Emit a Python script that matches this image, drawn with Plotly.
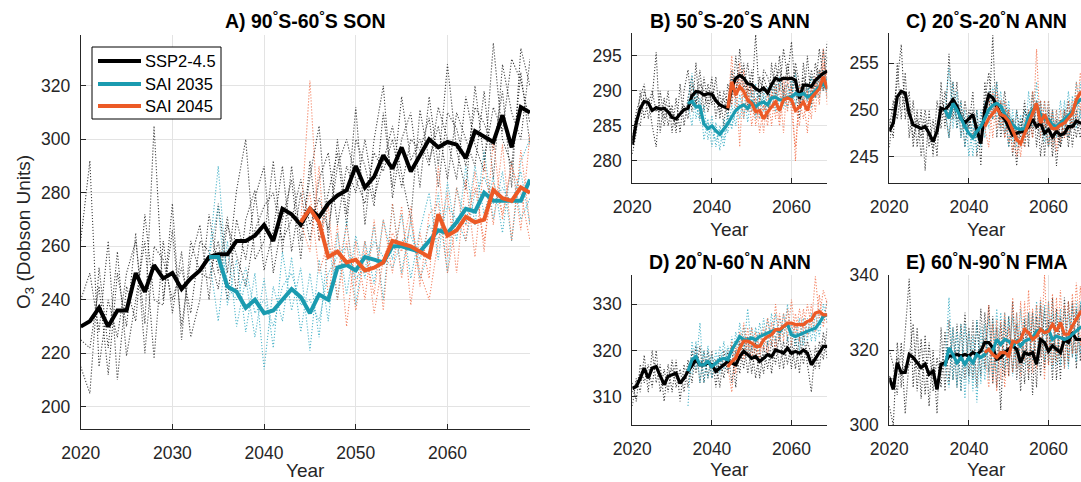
import plotly.graph_objects as go

W, H = 1081, 482

years = list(range(2020, 2070))
years_sai35 = list(range(2034, 2070))
years_sai45 = list(range(2044, 2070))

# ---------------- Panel A: 90S-60S SON ----------------
a_ssp_mean = [230,232,237,230,236,236,250,243,253,248, 250,244,248,251,256,257,257,262,262,264,
              268,262,274,272,268,274,271,276,279,281, 290,282,286,294,289,297,288,294,300,297,
              299,298,293,303,301,299,309,297,312,310]
a_ssp_m1 = [262,292,215,240,226,250,262,231,305,240, 266,230,255,268,240,276,250,281,300,255,
            262,292,258,290,262,286,305,262,300,272, 312,268,300,320,278,300,310,282,316,290,
            328,296,281,320,292,312,303,330,322,306]
a_ssp_m2 = [215,205,252,222,258,219,240,262,218,262, 235,258,226,240,272,250,271,242,270,281,
            251,266,290,258,280,262,285,295,268,290, 280,300,278,292,305,287,270,311,292,305,
            285,310,300,290,318,285,328,310,300,330]
a_ssp_m3 = [240,250,228,262,210,245,232,272,240,238, 276,225,262,250,248,262,240,270,255,278,
            290,250,270,285,255,292,262,280,295,268, 300,290,275,310,282,316,292,300,290,312,
            300,285,316,298,288,336,300,290,325,298]
a_ssp_m4 = [225,222,245,212,250,230,265,220,260,255, 240,252,235,262,258,244,268,256,245,266,
            275,280,262,270,285,268,278,266,290,300, 285,276,295,288,300,282,300,296,308,282,
            310,304,290,312,306,296,318,282,334,320]
a_s35_mean = [256,256,245,243,237,240,235,236,240,244, 241,235,242,240,252,253,251,256,255,254,
              260,260,259,258,262,266,265,269,274,273, 280,277,277,277,277,285]
a_s35_m1 = [256,275,238,255,228,250,214,245,232,256, 228,250,226,262,240,270,238,262,246,270,
            255,272,248,266,280,255,284,262,290,268, 296,270,288,262,292,300]
a_s35_m2 = [256,232,262,230,248,226,248,222,258,236, 252,221,255,232,265,242,264,248,268,240,
            276,250,270,248,258,280,250,282,268,290, 272,286,265,292,270,278]
a_s35_m3 = [256,290,245,240,252,235,240,230,245,250, 238,240,232,250,256,260,248,252,262,256,
            252,262,264,255,268,262,275,270,262,280, 286,276,282,276,288,268]
a_s45_mean = [269,274,269,256,258,254,255,251,252,254, 262,261,260,258,256,272,264,266,271,269,
              270,281,278,277,282,280]
a_s45_m1 = [269,322,262,275,240,262,236,258,242,270, 250,275,238,265,248,290,256,282,262,288,
            258,300,270,292,266,302]
a_s45_m2 = [269,258,290,240,268,230,262,240,270,236, 276,248,270,250,240,262,280,250,285,256,
            292,268,298,262,296,268]
a_s45_m3 = [269,280,250,262,250,268,245,262,235,255, 265,258,275,245,272,276,250,270,268,282,
            262,284,272,290,280,262]

# ---------------- Panel B: 50S-20S ANN ----------------
b_ssp_mean = [282.3,285.5,287.5,288.5,288.3,287.2,287.6,287.4,287.5,287.0,
              286.2,286.0,286.7,287.3,287.5,289.3,289.9,289.8,289.4,289.6,
              289.5,288.6,288.0,287.7,287.5,290.5,291.8,292.2,291.8,291.0,
              290.9,290.3,290.0,290.4,289.7,290.9,291.8,291.5,291.8,291.7,
              291.8,291.5,288.9,290.8,290.8,290.6,291.5,292.0,292.5,292.8]
b_ssp_m1 = [283,287,289,291,286,289,295.5,284,289,285, 288,284,291,285,289,292,288,293,287,291,
            288,292,286,290,288,293,289,296,290,294, 289,298,288,293,292,290,294,290,296,292,
            297,290,286,294,289,293,290,296,292,297]
b_ssp_m2 = [281,284,290,286,289,285,282,290,286,290, 284,289,284,290,293,287,294,286,292,288,
            292,286,290,285,291,288,295,290,294,288, 293,287,292,289,286,294,289,295,289,294,
            290,294,291,288,295,288,294,291,296,290]
b_ssp_m3 = [282.5,286,285,290,288,290,287,288,285,288, 287,285,287,288,286,291,288,291,290,287,
            290,289,287,289,286,292,290,293,292,290, 291,290,289,292,290,289,292,293,290,291,
            289,293,288,292,290,292,289,293,290,295]
b_s35_mean = [288.2,288.5,287.7,287.8,285.3,284.6,285.0,284.3,283.8,284.6,
              285.3,286.3,287.2,287.7,288.0,287.5,288.4,287.7,288.2,288.4,
              288.0,289.0,289.1,288.7,288.7,289.1,289.1,289.6,289.4,289.6,
              289.1,289.4,290.0,290.6,291.0,290.3]
b_s35_m1 = [288.2,292.5,286,289,283,286,282,285.5,281.5,286, 284,288,285,289.5,286,290,287,291,286,290,
            288,291,287,292,288,291,289,292.5,288,291, 288.5,292,289,293,290,292]
b_s35_m2 = [288.2,285,290,286,288,283,286.5,282,285,283, 287,284.5,289,286,290,285.5,290,286.5,290,287,
            290.5,287.5,291,287,290,287.5,291.5,288,291,288, 291,287.5,292,289,293,289]
b_s35_m3 = [288.2,289,288,285.5,285,285.5,284,283,284.5,282, 286,285,287,288,287,287.5,288.5,286,288.5,289,
            286.5,289,289.5,289.5,287.5,290,288,290,289.5,290.5, 288.5,290,289,291,290,292]
b_s45_mean = [287.5,291.3,289.4,290.6,289.9,288.7,288.2,287.0,287.2,286.0,
              287.0,287.7,288.4,287.2,288.7,289.0,288.7,287.2,287.7,288.4,
              287.2,289.0,289.6,290.3,292.0,290.3]
b_s45_m1 = [287.5,295,287,292,286,291,285,289,284,288, 285,290,286,291,284,292,287,282,289,286,
            290,286,292,288,296,289]
b_s45_m2 = [287.5,288,292,282,293,287,291,285,289,284, 290,285,291,286,292,287,291,280,291,289,
            284,291,287,293,290,293]
b_s45_m3 = [287.5,291,289,294,289,290,287,288,286,288, 286,288,289,285,290,288,289,288,285,291,
            288,290,291,289,294,288]

# ---------------- Panel C: 20S-20N ANN ----------------
c_ssp_mean = [247.7,248.6,251.4,252.0,251.8,249.6,248.4,248.2,248.0,248.2,
              247.5,246.6,247.7,250.2,250.0,250.5,251.1,250.4,249.1,248.6,
              249.0,249.5,247.9,246.4,250.0,251.6,251.3,250.4,249.5,249.0,
              248.2,247.3,247.5,247.7,247.7,248.2,249.0,248.2,248.6,247.5,
              247.9,247.1,247.7,247.3,247.5,248.2,248.2,248.8,248.6,248.5]
c_ssp_m1 = [246,250,253,257,249,252,246,250,245,249, 246,249,245,253,248,256,249,253,247,251,
            248,252,245,249,251,254,249,253,247,250, 246,249,244,249,246,250,247,251,245,249,
            246,250,244,249,247,251,246,250,248,247]
c_ssp_m2 = [249,247,255,249,254,247,251,246,250,243.5, 250,245,251,248,252,249,253,248,251,246,
            250,247,250,244,253,249,258,247,251,247, 250,245,250,247,251,246,252,246,251,245,
            250,245,249,246,250,246,250,247,250,249]
c_ssp_m3 = [248,251,249,252,250,250,247,249,247,250, 247,246,248,251,250,247,251,249,250,249,
            248,250,247,248,250,252,251,250,249,252, 248,249,247,248,250,249,248,251,249,248,
            249,248,248,246,248,247,249,249,247,250]
c_s35_mean = [250.0,249.1,250.7,250.0,249.1,248.2,247.5,247.0,247.7,248.2,
              249.1,250.0,250.5,250.7,250.4,249.5,249.0,248.4,248.0,247.9,
              248.0,249.3,250.0,250.4,249.5,249.0,249.0,248.4,248.2,248.6,
              249.1,249.5,249.8,250.7,251.1,251.0]
c_s35_m1 = [250,254.5,248,252,247,250,245,249,245.5,250, 247,252,249,253,248,251,246,250,246,249.5,
            246,252,248,253,247,251,246,250,247,251, 248,252,248,253,249,254]
c_s35_m2 = [250,247,253,248,251,246,249.5,245,250,246, 251,248,252.5,249,252,247.5,251,246.5,250,246,
            250,247,252,248,251,246.5,251,246,250,246.5, 251,247,251.5,248,253,249]
c_s35_m3 = [250,250,250.5,249,249.5,248.5,248,248,247,248.5, 249.5,250.5,250,251,250.5,250,249.5,249,248.5,248,
            248.5,249.5,250.5,250,249.5,249.5,248.5,249,248,248.5, 249.5,249,250.5,250.5,251,252]
c_s45_mean = [248.2,249.1,249.6,250.2,249.5,249.3,248.8,247.7,246.8,246.4,
              247.5,248.6,249.8,250.7,248.6,249.5,248.6,248.0,248.0,248.4,
              248.6,249.1,249.6,251.1,251.8,252.0]
c_s45_m1 = [248,251.5,247,252,248,251,246.5,249,245,248, 246,250,247,256.5,247,251,246,250,245.5,250,
            247,251,248,253,250,256]
c_s45_m2 = [248,246,252,248,251,247,250,245.5,248,245, 249,247,252,248,251,248,251,246,250,246.5,
            250,247,251,249,254,250]
c_s45_m3 = [248,249,250,251,249,250,249.5,248,247.5,246, 248,249.5,250,250,248.5,249.5,248,248.5,248,249,
            248.5,249.5,250,251.5,252,251]

# ---------------- Panel D: 20N-60N ANN ----------------
d_ssp_mean = [311.8,312.2,314.0,316.2,314.0,316.2,316.5,314.7,312.6,314.4,
              314.7,315.1,312.9,314.0,315.5,316.9,318.0,316.9,316.9,317.3,
              316.9,315.5,316.2,316.9,317.6,317.3,316.9,318.7,319.8,319.1,
              318.3,318.7,317.6,318.3,319.1,318.7,320.1,319.8,319.4,320.5,
              319.4,319.8,319.4,320.1,319.4,316.9,318.3,319.4,320.9,320.9]
d_ssp_m1 = [308,314,311,319,311,320,313,317,309,317, 311,318,309,317,312,320,315,321,313,320,
            314,318,312,320,315,321,312,322,316,323, 315,322,314,321,316,322,317,324,316,323,
            316,323,315,324,317,311,321,316,324,318]
d_ssp_m2 = [313,309,317,313,317,312,320,311,316,311, 318,312,316,311,318,313,321,313,320,314,
            320,312,319,314,320,313,320,315,323,315, 321,314,320,315,322,315,323,316,322,317,
            322,316,323,317,322,319,316,322,318,325]
d_ssp_m3 = [311,313,315,316,314,316,317,315,313,315, 316,314,313,314,316,317,318,317,318,317,
            317,316,317,317,318,318,317,319,320,319, 318,319,318,319,319,318,320,320,320,320,
            319,320,319,320,320,318,318,320,321,321]
d_s35_mean = [315.5,318.0,318.7,316.9,316.9,317.6,316.5,317.3,318.0,318.3,
              318.0,320.1,321.6,323.0,322.3,322.3,322.7,322.3,323.0,323.4,
              323.8,324.1,324.5,324.1,325.2,325.6,323.4,323.0,323.4,323.8,
              324.1,324.5,324.8,325.9,327.4,327.7]
d_s35_m1 = [308,322,316,326,313,321,314,320,315,322, 316,323,318,326,320,329,320,325,320,327,
            321,328,322,327,323,330,321,326,320,327, 322,328,322,329,326,331]
d_s35_m2 = [316,315,322,313,320,314,319,315,321,316, 321,317,324,320,325,319,325,320,326,321,
            327,321,328,322,328,322,326,321,327,321, 327,322,328,323,330,326]
d_s35_m3 = [315.5,318,318,318,317,318,317,317.5,318.5,318, 319,320,322,323,322,323,323,322.5,323.5,324,
            324,324.5,324.5,324,325,325.5,324,323.5,324,324, 324.5,325,325,326,327,328]
d_s45_mean = [316.5,317.6,318.3,320.5,322.0,322.0,321.6,320.9,320.9,322.3,
              323.0,323.4,324.5,324.5,325.2,325.9,325.9,325.6,325.6,325.6,
              326.3,326.6,328.1,328.4,327.7,327.7]
d_s45_m1 = [316.5,311,321,318,326,319,325,318,324,320, 327,321,330,322,328,323,331,323,329,324,
            330,325,336,327,333,330]
d_s45_m2 = [316.5,322,315,324,318,325,318,324,318,325, 319,326,320,328,322,329,321,328,322,329,
            323,330,324,332,325,331]
d_s45_m3 = [316.5,318,319,320,322,321,321,320,320,322, 323,323,324,324,325,326,325,325,326,325,
            326,326,328,328,327,326]

# ---------------- Panel E: 60N-90N FMA ----------------
e_ssp_mean = [312.6,309.5,316.6,314.0,314.0,318.8,318.0,316.6,315.3,316.2,
              313.5,314.4,309.5,316.2,316.6,318.4,318.4,318.8,318.4,318.8,
              318.4,319.3,318.8,319.7,322.0,322.0,320.6,317.5,318.0,319.3,
              320.2,321.1,320.2,316.6,319.3,318.8,319.3,316.2,322.8,322.0,
              319.7,321.1,320.2,319.3,322.8,322.0,324.6,322.8,322.8,323.0]
e_ssp_m1 = [305,300,322,310,325,339,310,326,307,324, 305,320,303,326,309,328,312,327,309,330,
            313,328,310,331,315,332,311,326,304,328, 313,333,312,325,311,330,308,329,313,331,
            316,334,312,329,316,333,318,331,317,335]
e_ssp_m2 = [320,316,308,322,303,318,327,309,323,308, 322,309,318,310,325,311,326,310,327,312,
            326,312,328,313,330,314,329,310,327,313, 329,314,327,309,328,312,330,310,332,315,
            328,312,331,312,334,316,333,315,332,318]
e_ssp_m3 = [313,312,318,313,316,316,318,315,316,317, 314,316,311,317,316,320,318,320,318,319,
            318,320,318,321,323,322,321,318,319,320, 320,322,320,318,320,319,320,317,323,322,
            320,322,321,320,323,322,325,323,323,324]
e_s35_mean = [315.7,320.6,318.8,316.6,318.0,316.2,318.0,316.6,318.8,318.0,
              318.8,320.2,319.7,322.8,321.5,322.8,322.4,321.1,322.4,321.1,
              322.4,322.8,323.3,325.0,325.5,324.6,325.5,322.8,323.7,323.3,
              322.8,323.3,324.2,325.0,326.0,326.5]
e_s35_m1 = [315.7,334,312,325,309,327,311,324,306,326, 312,329,313,331,315,330,316,329,315,331,
            316,330,317,333,318,332,317,330,316,331, 315,330,318,333,319,334]
e_s35_m2 = [315.7,310,326,310,327,307,325,309,328,311, 327,312,328,314,330,315,329,313,330,314,
            329,315,330,316,333,317,333,315,330,316, 331,315,332,317,333,318]
e_s35_m3 = [315.7,320,318,317,318,317,318,317,319,318, 319,320,320,323,321,323,322,321,322,321,
            322,323,323,325,325,324,325,323,324,323, 323,323,324,325,326,327]
e_s45_mean = [319.3,320.2,318.8,318.0,319.3,319.3,318.4,322.4,322.0,322.8,
              325.5,324.6,322.8,323.7,325.5,324.6,325.0,326.8,325.0,327.3,
              324.2,324.2,326.4,328.2,330.0,331.0]
e_s45_m1 = [319.3,332,311,328,312,330,313,334,315,333, 317,336,314,332,318,340,316,335,317,336,
            315,333,319,338,321,337]
e_s45_m2 = [319.3,310,327,309,328,310,326,314,330,313, 333,314,331,315,334,312,333,316,334,318,
            332,317,335,319,337,323]
e_s45_m3 = [319.3,320,319,318,319,320,318,322,322,323, 325,325,323,324,325,325,325,327,325,327,
            324,324,326,328,330,331]

series_names = ["SSP2-4.5", "SAI 2035", "SAI 2045"]

BLACK = "#000000"
CYAN = "#1A9BB0"
ORANGE = "#EC5A26"
BLACK_DOT = "rgba(20,20,20,0.8)"
CYAN_DOT = "rgba(40,165,190,0.8)"
ORANGE_DOT = "rgba(240,100,60,0.8)"
AX = "#262626"
GRID = "#e3e3e3"
FONT = "Liberation Sans, Arial, sans-serif"
DOT = "1.2px,1.8px"

fig = go.Figure()


def add_panel(idx, ssp_mean, ssp_mem, s35_mean, s35_mem, s45_mean, s45_mem, lw):
    xa = "x" if idx == 1 else f"x{idx}"
    ya = "y" if idx == 1 else f"y{idx}"
    for x, mem, col in ((years, ssp_mem, BLACK_DOT), (years_sai35, s35_mem, CYAN_DOT),
                        (years_sai45, s45_mem, ORANGE_DOT)):
        for m in mem:
            assert len(m) == len(x), (idx, len(m), len(x))
            fig.add_trace(go.Scatter(x=x, y=m, mode="lines", xaxis=xa, yaxis=ya,
                                     line=dict(color=col, width=1.1, dash=DOT),
                                     showlegend=False, hoverinfo="skip"))
    for x, mean, col, name in ((years, ssp_mean, BLACK, series_names[0]),
                               (years_sai35, s35_mean, CYAN, series_names[1]),
                               (years_sai45, s45_mean, ORANGE, series_names[2])):
        assert len(mean) == len(x), (idx, name, len(mean))
        fig.add_trace(go.Scatter(x=x, y=mean, mode="lines", xaxis=xa, yaxis=ya, name=name,
                                 line=dict(color=col, width=lw), showlegend=False))


add_panel(1, a_ssp_mean, [a_ssp_m1, a_ssp_m2, a_ssp_m3, a_ssp_m4], a_s35_mean,
          [a_s35_m1, a_s35_m2, a_s35_m3], a_s45_mean, [a_s45_m1, a_s45_m2, a_s45_m3], 4)
add_panel(2, b_ssp_mean, [b_ssp_m1, b_ssp_m2, b_ssp_m3], b_s35_mean,
          [b_s35_m1, b_s35_m2, b_s35_m3], b_s45_mean, [b_s45_m1, b_s45_m2, b_s45_m3], 3.2)
add_panel(3, c_ssp_mean, [c_ssp_m1, c_ssp_m2, c_ssp_m3], c_s35_mean,
          [c_s35_m1, c_s35_m2, c_s35_m3], c_s45_mean, [c_s45_m1, c_s45_m2, c_s45_m3], 3.2)
add_panel(4, d_ssp_mean, [d_ssp_m1, d_ssp_m2, d_ssp_m3], d_s35_mean,
          [d_s35_m1, d_s35_m2, d_s35_m3], d_s45_mean, [d_s45_m1, d_s45_m2, d_s45_m3], 3.2)
add_panel(5, e_ssp_mean, [e_ssp_m1, e_ssp_m2, e_ssp_m3], e_s35_mean,
          [e_s35_m1, e_s35_m2, e_s35_m3], e_s45_mean, [e_s45_m1, e_s45_m2, e_s45_m3], 3.2)


def px_x(p):
    return p / W


def px_y(p):
    return 1 - p / H


# panel boxes in pixels: (left, right, top, bottom)
boxes = {
    1: (80.7, 530.0, 35.0, 429.0),
    2: (632.3, 827.3, 33.3, 182.7),
    3: (889.3, 1081.0, 33.3, 182.7),
    4: (632.3, 827.3, 275.0, 425.0),
    5: (889.3, 1081.0, 275.0, 425.0),
}
xranges = {1: [2020, 2069], 2: [2020, 2069], 3: [2020, 2020 + (1081 - 889.3) / 3.98],
           4: [2020, 2069], 5: [2020, 2020 + (1081 - 889.3) / 3.98]}
yranges = {1: [191.7, 339.0], 2: [276.9, 298.2], 3: [242.2, 258.2], 4: [303.9, 336.3], 5: [300, 340]}
xticks = {1: [2020, 2030, 2040, 2050, 2060], 2: [2020, 2040, 2060], 3: [2020, 2040, 2060],
          4: [2020, 2040, 2060], 5: [2020, 2040, 2060]}
yticks = {1: [200, 220, 240, 260, 280, 300, 320], 2: [280, 285, 290, 295], 3: [245, 250, 255],
          4: [310, 320, 330], 5: [300, 320, 340]}

axis_common = dict(showline=True, linecolor=AX, linewidth=1, mirror=False, ticks="inside",
                   ticklen=5, tickcolor=AX, tickwidth=1, showgrid=True, gridcolor=GRID,
                   gridwidth=1, zeroline=False, automargin=False,
                   tickfont=dict(family=FONT, size=17.5, color=AX))

layout = {}
for i, (l, r, t, b) in boxes.items():
    xk = "xaxis" if i == 1 else f"xaxis{i}"
    yk = "yaxis" if i == 1 else f"yaxis{i}"
    xa = "x" if i == 1 else f"x{i}"
    ya = "y" if i == 1 else f"y{i}"
    layout[xk] = dict(domain=[px_x(l), px_x(r)], range=xranges[i], anchor=ya,
                      tickvals=xticks[i], ticktext=[str(v) for v in xticks[i]],
                      ticklabelstandoff=8, **axis_common)
    layout[yk] = dict(domain=[px_y(b), px_y(t)], range=yranges[i], anchor=xa,
                      tickvals=yticks[i], ticktext=[str(v) for v in yticks[i]],
                      ticklabelstandoff=6, **axis_common)

fig.update_layout(**layout)

titles = {
    1: "<b>A) 90<sup>°</sup>S-60<sup>°</sup>S SON</b>",
    2: "<b>B) 50<sup>°</sup>S-20<sup>°</sup>S ANN</b>",
    3: "<b>C) 20<sup>°</sup>S-20<sup>°</sup>N ANN</b>",
    4: "<b>D) 20<sup>°</sup>N-60<sup>°</sup>N ANN</b>",
    5: "<b>E) 60<sup>°</sup>N-90<sup>°</sup>N FMA</b>",
}
title_y = {1: 20, 2: 20, 3: 20, 4: 261, 5: 261}
year_y = {1: 470, 2: 229, 3: 229, 4: 469, 5: 469}

ann = []
for i, (l, r, t, b) in boxes.items():
    cx = (l + r) / 2 if i in (1, 2, 4) else (l + (l + 195)) / 2
    ann.append(dict(text=titles[i], x=px_x(cx), y=px_y(title_y[i]), xref="paper", yref="paper",
                    xanchor="center", yanchor="middle", showarrow=False,
                    font=dict(family=FONT, size=19.5, color="#000000")))
    ann.append(dict(text="Year", x=px_x(cx), y=px_y(year_y[i]), xref="paper", yref="paper",
                    xanchor="center", yanchor="middle", showarrow=False,
                    font=dict(family=FONT, size=19, color=AX)))
ann.append(dict(text="O<sub>3</sub> (Dobson Units)", x=px_x(25), y=px_y(232), xref="paper",
                yref="paper", xanchor="center", yanchor="middle", textangle=-90, showarrow=False,
                font=dict(family=FONT, size=19, color=AX)))

# manual legend (box, line samples, labels) in panel A
leg_box = (92, 221, 47, 119)
leg_rows = [61, 84, 106]
leg_cols = [BLACK, CYAN, ORANGE]
shapes = [dict(type="rect", xref="paper", yref="paper", x0=px_x(leg_box[0]), x1=px_x(leg_box[1]),
               y0=px_y(leg_box[3]), y1=px_y(leg_box[2]), line=dict(color="#000000", width=1),
               fillcolor="white", layer="above")]
for ry, col, name in zip(leg_rows, leg_cols, series_names):
    shapes.append(dict(type="line", xref="paper", yref="paper", x0=px_x(98), x1=px_x(141),
                       y0=px_y(ry), y1=px_y(ry), line=dict(color=col, width=4), layer="above"))
    ann.append(dict(text=name, x=px_x(143), y=px_y(ry), xref="paper", yref="paper",
                    xanchor="left", yanchor="middle", showarrow=False,
                    font=dict(family=FONT, size=16.5, color="#000000")))

fig.update_layout(
    width=W, height=H, margin=dict(l=0, r=0, t=0, b=0),
    paper_bgcolor="white", plot_bgcolor="white",
    annotations=ann, shapes=shapes,
    showlegend=False,
)

fig.write_html("out.html")
